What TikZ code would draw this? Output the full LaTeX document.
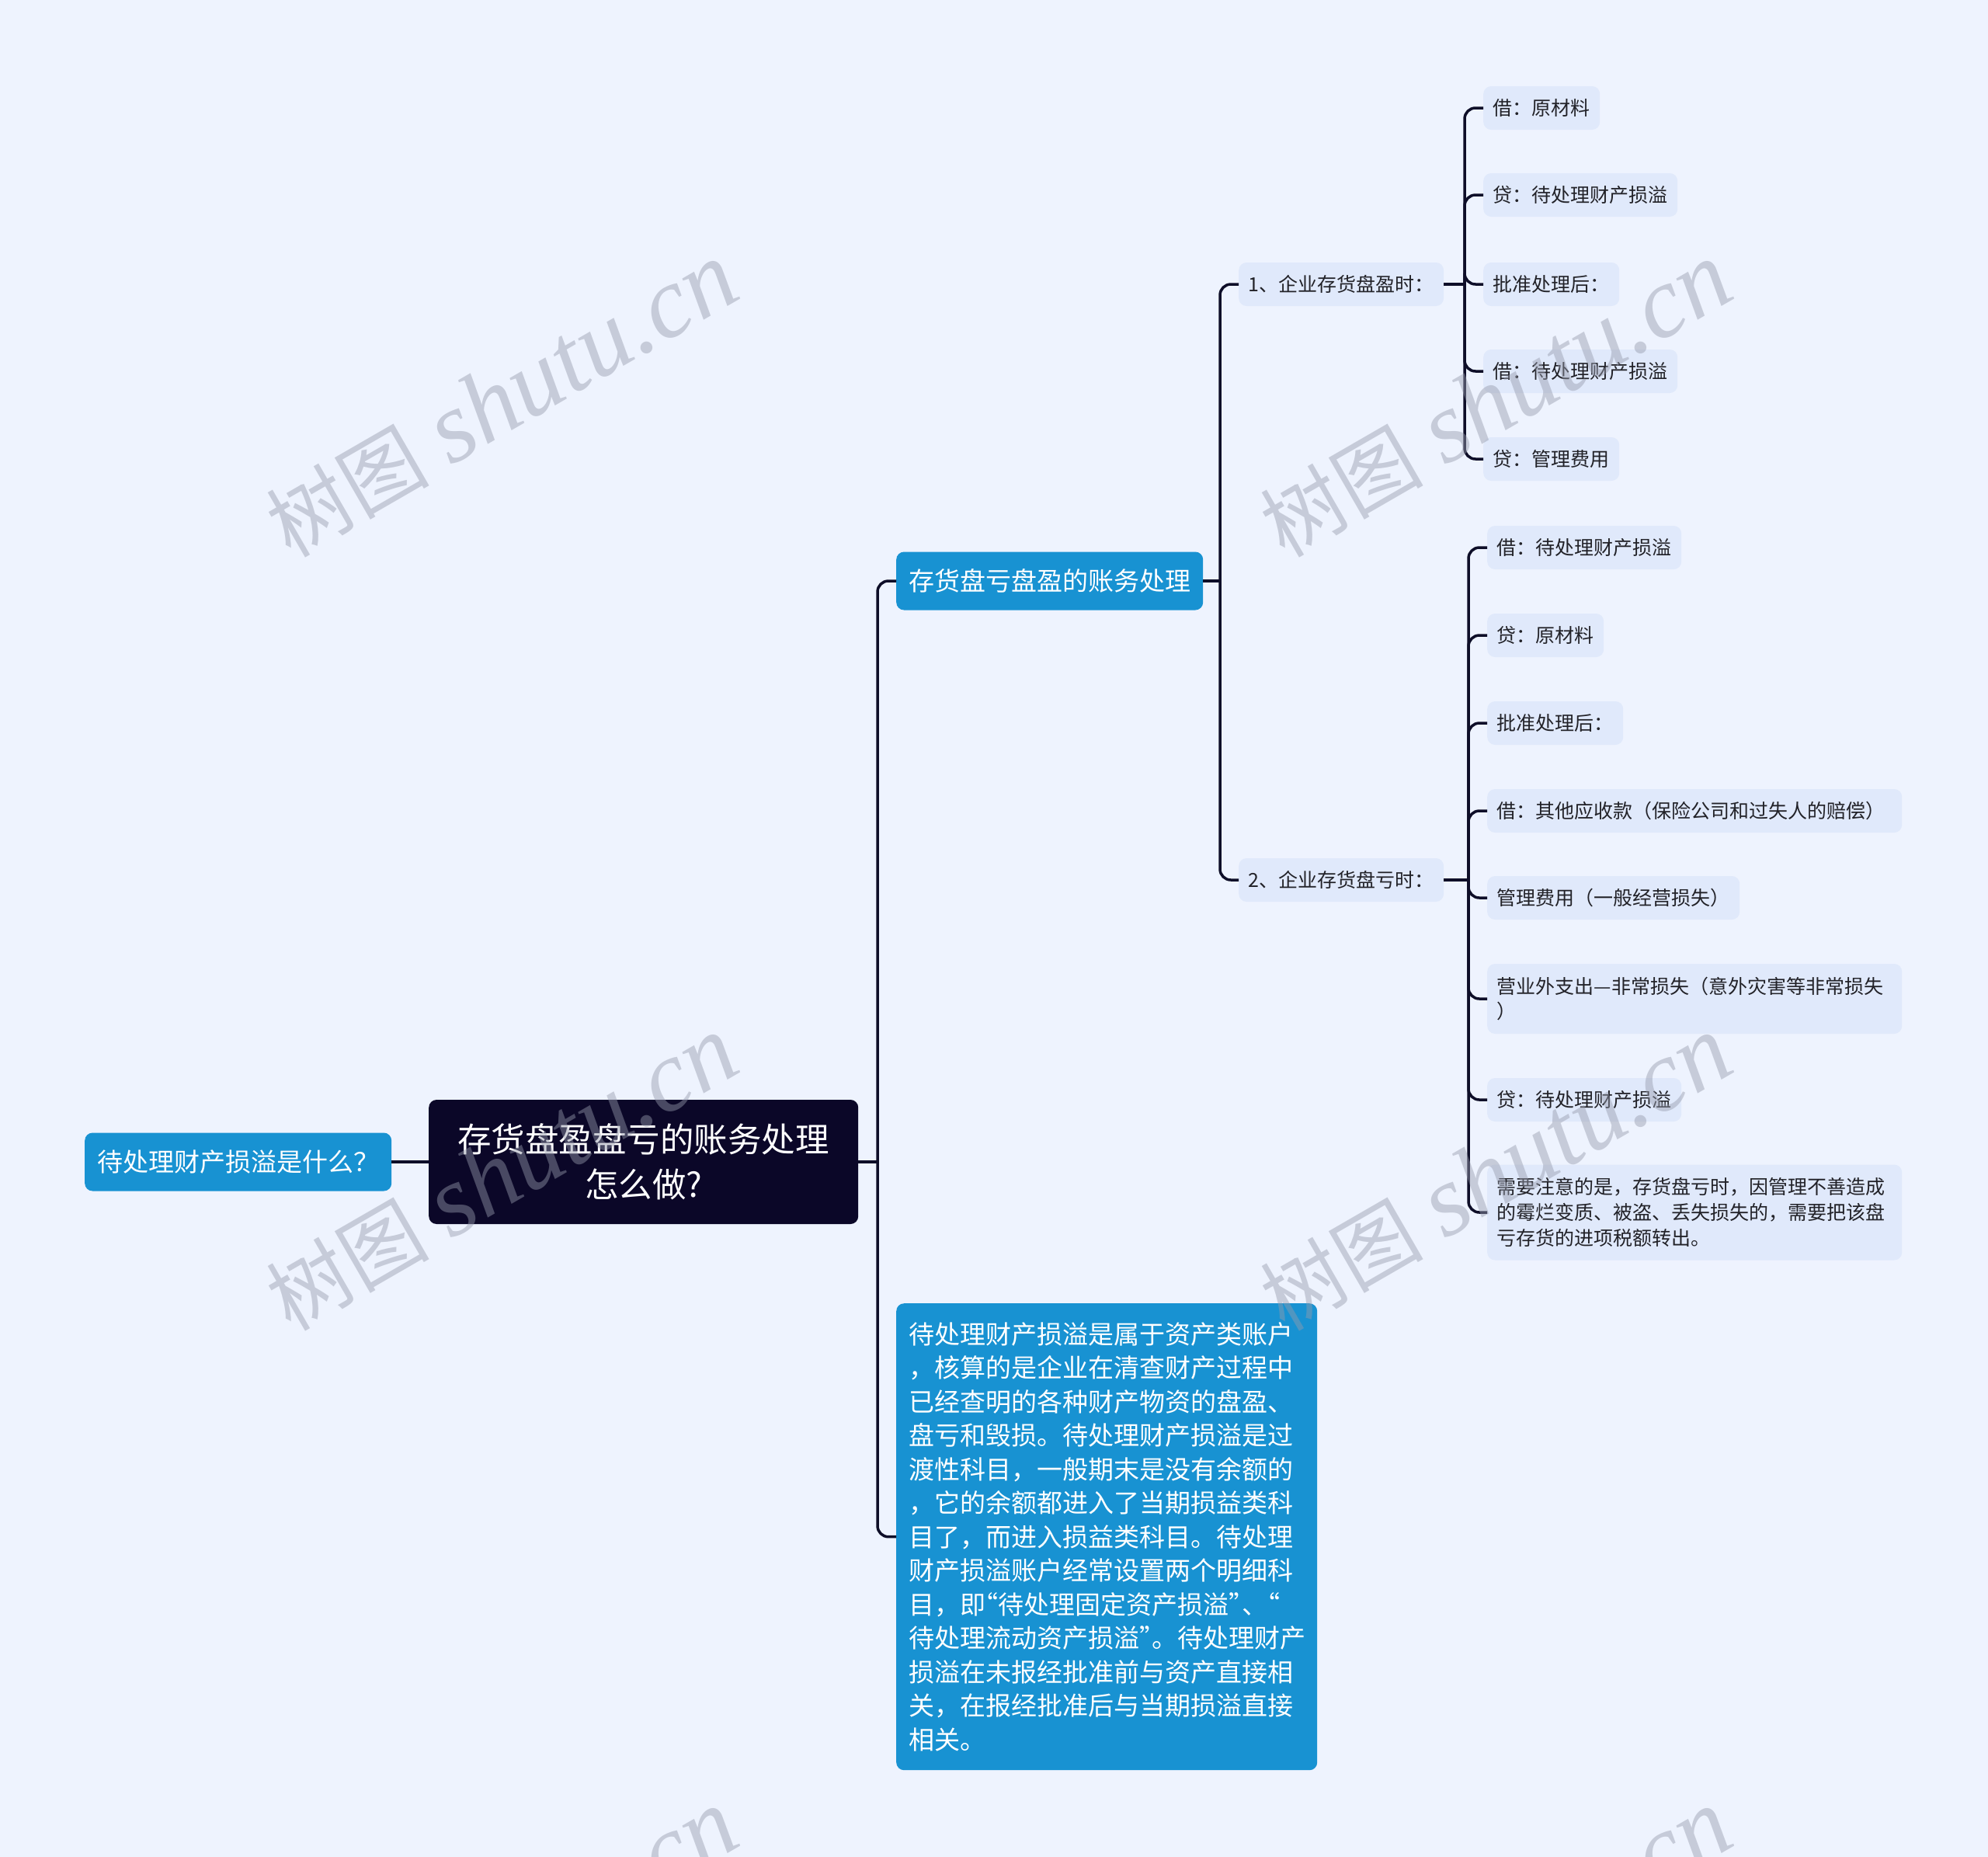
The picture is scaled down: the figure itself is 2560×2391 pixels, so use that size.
\documentclass[tikz,border=0pt]{standalone}
\usepackage{fontspec}
\setmainfont{Noto Sans CJK SC}
\newfontfamily\wmcjk{Noto Sans CJK SC}
\newfontfamily\wmlatin{Liberation Serif}
\definecolor{bgc}{RGB}{238,243,254}
\definecolor{leaffill}{RGB}{224,233,251}
\definecolor{bluebox}{RGB}{24,146,210}
\definecolor{darkbox}{RGB}{11,7,40}
\definecolor{linec}{RGB}{14,14,40}
\definecolor{textc}{RGB}{34,34,40}
\definecolor{wmc}{RGB}{150,155,172}
\newcommand{\oq}{\kern-0.5em“}
\newcommand{\cq}{”\kern-0.5em}
\begin{document}
\begin{tikzpicture}[x=1pt,y=-1pt,
  conn/.style={draw=linec, line width=3.5, rounded corners=14},
  leaf/.style={fill=leaffill, rounded corners=10, inner xsep=12.5, inner ysep=0, minimum height=56, anchor=west, text=textc, font=\fontsize{25}{32.7}\selectfont},
  wideleaf/.style={leaf, text width=509, align=left},
  bluenode/.style={fill=bluebox, rounded corners=10, text=white, inner xsep=16, inner ysep=0, minimum height=75, anchor=west, font=\fontsize{33}{43.5}\selectfont},
  rootnode/.style={fill=darkbox, rounded corners=10, text=white, inner xsep=16, inner ysep=0, minimum height=160, text width=521, align=center, anchor=west, font=\fontsize{43.5}{58}\selectfont},
  wmark/.style={text=wmc, opacity=0.45, rotate=30, anchor=center, inner sep=0}]
\useasboundingbox (0,0) rectangle (2560,2391);
\fill[bgc] (0,0) rectangle (2560,2391);

% nodes
\node[bluenode] (lq) at (109,1496) {待处理财产损溢是什么？};
\node[rootnode] (root) at (552,1496) {存货盘盈盘亏的账务处理\\怎么做?};
\node[bluenode] (b1) at (1154,748) {存货盘亏盘盈的账务处理};
\node[bluenode, anchor=north west, text width=510, align=left, minimum height=601] (tb) at (1154,1678) {待处理财产损溢是属于资产类账户\\，核算的是企业在清查财产过程中\\已经查明的各种财产物资的盘盈、\\盘亏和毁损。待处理财产损溢是过\\渡性科目，一般期末是没有余额的\\，它的余额都进入了当期损益类科\\目了，而进入损益类科目。待处理\\财产损溢账户经常设置两个明细科\\目，即\oq 待处理固定资产损溢\cq 、\oq\\待处理流动资产损溢\cq 。待处理财产\\损溢在未报经批准前与资产直接相\\关，在报经批准后与当期损溢直接\\相关。};

\node[leaf] (s1) at (1595,366) {1、企业存货盘盈时：};
\node[leaf] (s2) at (1595,1133) {2、企业存货盘亏时：};

\node[leaf] (a1) at (1910,139) {借：原材料};
\node[leaf] (a2) at (1910,251) {贷：待处理财产损溢};
\node[leaf] (a3) at (1910,366) {批准处理后：};
\node[leaf] (a4) at (1910,478) {借：待处理财产损溢};
\node[leaf] (a5) at (1910,591) {贷：管理费用};

\node[leaf] (c1) at (1915,705) {借：待处理财产损溢};
\node[leaf] (c2) at (1915,818) {贷：原材料};
\node[leaf] (c3) at (1915,931) {批准处理后：};
\node[wideleaf] (c4) at (1915,1044) {借：其他应收款（保险公司和过失人的赔偿）};
\node[leaf] (c5) at (1915,1156) {管理费用（一般经营损失）};
\node[wideleaf, minimum height=90] (c6) at (1915,1286) {营业外支出—非常损失（意外灾害等非常损失\\）};
\node[leaf] (c7) at (1915,1416) {贷：待处理财产损溢};
\node[wideleaf, minimum height=123] (c8) at (1915,1561) {需要注意的是，存货盘亏时，因管理不善造成\\的霉烂变质、被盗、丢失损失的，需要把该盘\\亏存货的进项税额转出。};

% connectors
\draw[conn] (lq.east) -- (root.west);
\coordinate (j0) at (1130,1496);
\draw[conn] (root.east) -- (j0);
\draw[conn] (j0) |- (b1.west);
\draw[conn] (j0) |- (tb.west);

\coordinate (j1) at (1571,748);
\draw[conn] (b1.east) -- (j1);
\draw[conn] (j1) |- (s1.west);
\draw[conn] (j1) |- (s2.west);

\coordinate (j2) at (1886,366);
\draw[conn] (s1.east) -- (j2);
\foreach \n in {a1,a2,a3,a4,a5} {\draw[conn] (j2) |- (\n.west);}

\coordinate (j3) at (1891,1133);
\draw[conn] (s2.east) -- (j3);
\foreach \n in {c1,c2,c3,c4,c5,c6,c7,c8} {\draw[conn] (j3) |- (\n.west);}

% watermarks
\begin{scope}
\clip (0,0) rectangle (2560,2391);
\foreach \wx/\wy [count=\i] in {646/515, 1926/515, 646/1511, 1926/1511, 646/2507, 1926/2507} {
  \node[wmark] (wm\i) at (\wx,\wy) {{\wmcjk\fontsize{105}{120}\selectfont 树图\hspace{28pt}}{\wmlatin\itshape\fontsize{130}{140}\selectfont shutu.cn}};
}
\end{scope}
\end{tikzpicture}
\end{document}
